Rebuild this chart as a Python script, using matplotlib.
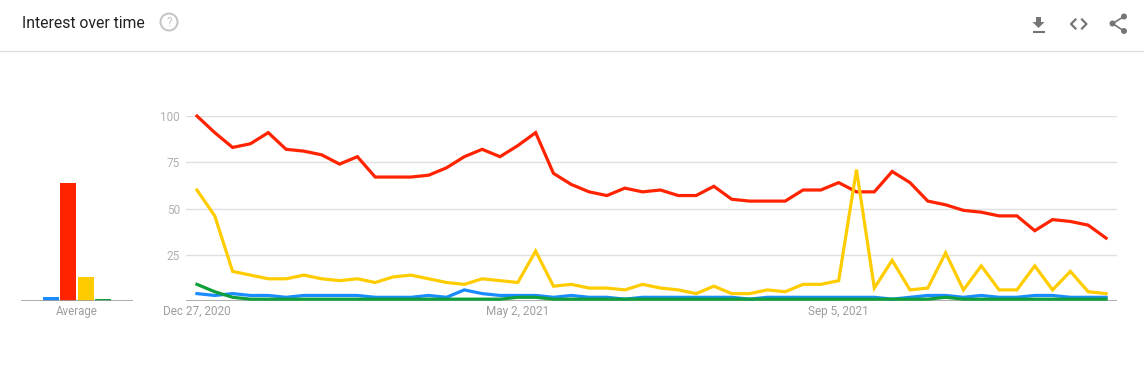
import numpy as np
import pandas as pd
import matplotlib
matplotlib.use("Agg")
import matplotlib.pyplot as plt
from matplotlib.patches import Circle, Polygon

plt.rcParams["font.family"] = ["Roboto", "DejaVu Sans"]

# weekly points, Dec 27 2020 onwards
dates = pd.date_range("2020-12-27", periods=52, freq="7D")
tick_dates = ["2020-12-27", "2021-05-02", "2021-09-05"]
tick_labels = ["Dec 27, 2020", "May 2, 2021", "Sep 5, 2021"]

blue = [4, 3, 4, 3, 3, 2, 3, 3, 3, 3, 2, 2, 2, 3, 2, 6, 4, 3, 3, 3, 2, 3, 2, 2, 1, 2,
        2, 2, 2, 2, 2, 1, 2, 2, 2, 2, 2, 2, 2, 1, 2, 3, 3, 2, 3, 2, 2, 3, 3, 2, 2, 2]
red = [100, 91, 83, 85, 91, 82, 81, 79, 74, 78, 67, 67, 67, 68, 72, 78, 82, 78, 84, 91,
       69, 63, 59, 57, 61, 59, 60, 57, 57, 62, 55, 54, 54, 54, 60, 60, 64, 59, 59, 70,
       64, 54, 52, 49, 48, 46, 46, 38, 44, 43, 41, 34]
yellow = [60, 46, 16, 14, 12, 12, 14, 12, 11, 12, 10, 13, 14, 12, 10, 9, 12, 11, 10, 27,
          8, 9, 7, 7, 6, 9, 7, 6, 4, 8, 4, 4, 6, 5, 9, 9, 11, 71, 7, 22,
          6, 7, 26, 6, 19, 6, 6, 19, 6, 16, 5, 4]
green = [9, 5, 2, 1, 1, 1, 1, 1, 1, 1, 1, 1, 1, 1, 1, 1, 1, 1, 2, 2, 1, 1, 1, 1, 1, 1,
         1, 1, 1, 1, 1, 1, 1, 1, 1, 1, 1, 1, 1, 1, 1, 1, 2, 1, 1, 1, 1, 1, 1, 1, 1, 1]
averages = [2, 64, 13, 1]

colors = ["#1a8cff", "#ff2300", "#ffcc00", "#0fa03c"]
series = [blue, red, yellow, green]

W, H = 1144, 382
fig = plt.figure(figsize=(W / 100, H / 100), dpi=100)


def box(x0, x1, ytop, ybot):
    return [x0 / W, 1 - ybot / H, (x1 - x0) / W, (ybot - ytop) / H]


# header overlay in pixel coords
hdr = fig.add_axes([0, 0, 1, 1])
hdr.set_xlim(0, W)
hdr.set_ylim(H, 0)
hdr.axis("off")
hdr.text(22, 23, "Interest over time", fontsize=11.3, color="#202124", va="center", ha="left")
hdr.add_patch(Circle((169, 22), 8.5, fill=False, ec="#c4c4c4", lw=1.4))
hdr.text(169, 22.5, "?", fontsize=8.5, color="#c4c4c4", ha="center", va="center")
hdr.plot([0, W], [51, 51], color="#e0e0e0", lw=1)
icon = "#757575"
# download icon
hdr.add_patch(Polygon([[1036, 17], [1041, 17], [1041, 22], [1044.5, 22], [1038.5, 28],
                       [1032.5, 22], [1036, 22]], closed=True, color=icon, lw=0))
hdr.plot([1032.5, 1044.5], [31.5, 31.5], color=icon, lw=1.5, solid_capstyle="butt")
# embed icon
hdr.plot([1075.5, 1071, 1075.5], [19.5, 24, 28.5], color=icon, lw=1.6)
hdr.plot([1082, 1086.5, 1082], [19.5, 24, 28.5], color=icon, lw=1.6)
# share icon
for cx, cy in [(1124, 16.5), (1112.5, 23.5), (1124, 31)]:
    hdr.add_patch(Circle((cx, cy), 3.0, color=icon, lw=0))
hdr.plot([1124, 1112.5, 1124], [16.5, 23.5, 31], color=icon, lw=1.2)

# average bars
bx = fig.add_axes(box(21, 133, 116, 301))
pos = np.arange(len(averages))
bx.bar(pos, averages, width=0.925, color=colors)
bx.set_xlim(1.5 - 56 / 17.3, 1.5 + 56 / 17.3)
bx.set_ylim(0, 100)
for s in bx.spines.values():
    s.set_visible(False)
bx.axhline(0, color="#9e9e9e", lw=1.2)
bx.set_yticks([])
bx.set_xticks([1.5])
bx.set_xticklabels(["Average"], fontsize=8.3, color="#9e9e9e")
bx.tick_params(length=0, pad=3)

# main line chart
ax = fig.add_axes(box(186, 1117, 116, 301))
for i, (vals, c) in enumerate(zip(series, colors)):
    ax.plot(dates, vals, color=c, lw=2.3, solid_joinstyle="miter", clip_on=False, zorder=3 + i)
half = pd.Timedelta(days=4.3)
ax.set_xlim(dates[0] - half, dates[-1] + half)
ax.set_ylim(0, 100)
ax.set_yticks([25, 50, 75, 100])
ax.set_yticklabels(["25", "50", "75", "100"], fontsize=8.5, color="#b0b0b0")
ax.grid(axis="y", color="#e0e0e0", lw=1)
ax.axhline(0, color="#9e9e9e", lw=1.2, zorder=2)
ax.set_xticks(pd.to_datetime(tick_dates))
ax.set_xticklabels(tick_labels, fontsize=8.5, color="#9e9e9e")
ax.tick_params(length=0, pad=3)
ax.tick_params(axis="y", pad=4.5)
for s in ax.spines.values():
    s.set_visible(False)

fig.savefig("out.png", dpi=100)
